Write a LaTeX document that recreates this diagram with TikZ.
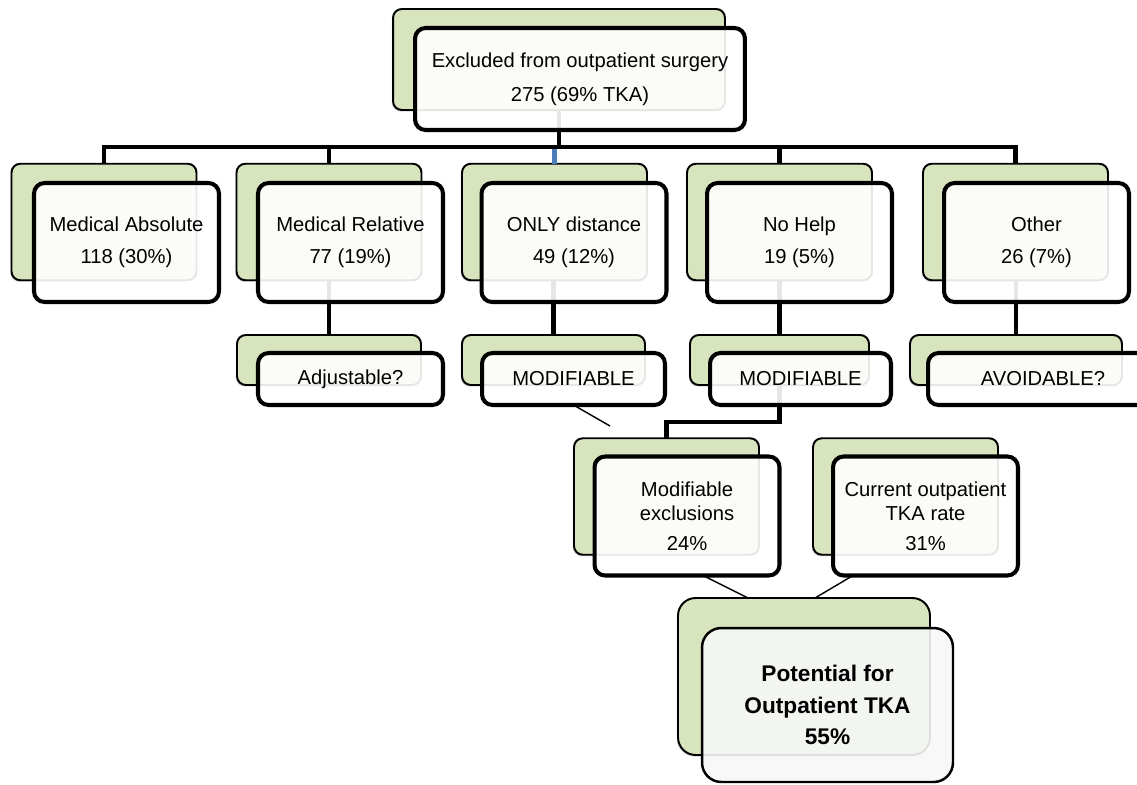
\documentclass[tikz,border=0pt]{standalone}
\usepackage{fontspec}
\setmainfont{Liberation Sans}
\usetikzlibrary{shadows}
\definecolor{boxgreen}{HTML}{D7E4BD}
\definecolor{stemblue}{HTML}{4A7EBB}
\tikzset{
  backbox/.style={draw=black, line width=1.1pt, fill=boxgreen, rounded corners=5pt,
    inner sep=0pt, outer sep=0pt,
    drop shadow={shadow xshift=-0.7pt, shadow yshift=-0.9pt, opacity=0.3}},
  frontbox/.style={draw=black, line width=2.3pt, fill=white, fill opacity=0.9, text opacity=1,
    rounded corners=6pt, inner sep=0pt, outer sep=0pt, align=center,
    font=\fontsize{11.5}{18}\selectfont},
  bigback/.style={backbox, minimum width=3.7cm, minimum height=2.33cm},
  bigfront/.style={frontbox, minimum width=3.7cm, minimum height=2.38cm},
  smallback/.style={backbox, minimum height=1.0cm},
  smallfront/.style={frontbox, minimum height=1.04cm},
  potback/.style={backbox, rounded corners=10pt, minimum width=5.04cm, minimum height=3.14cm},
  potfront/.style={frontbox, fill=black!3, line width=1.4pt, rounded corners=11pt,
    minimum width=5.02cm, minimum height=3.08cm,
    font=\fontsize{12.9}{18}\selectfont\bfseries},
  bus/.style={line width=2.8pt},
  thinline/.style={line width=0.8pt},
}
\begin{document}
\begin{tikzpicture}[x=0.02cm, y=-0.02cm]
  \useasboundingbox (0,0) rectangle (1137,785);

  % Green boxes behind
  \node[backbox, minimum width=6.64cm, minimum height=2.02cm] (topG) at (559,59.5) {};
  \node[bigback] (absG) at (104,222) {};
  \node[bigback] (relG) at (329,222) {};
  \node[bigback] (onlyG) at (554.5,222) {};
  \node[bigback] (helpG) at (779.5,222) {};
  \node[bigback] (otherG) at (1015.5,222) {};
  \node[smallback, minimum width=3.68cm] (adjG) at (329,360) {};
  \node[smallback, minimum width=3.66cm] (modaG) at (553.5,360) {};
  \node[smallback, minimum width=3.58cm] (modbG) at (779.5,360) {};
  \node[smallback, minimum width=4.24cm] (avoidG) at (1016,360) {};
  \node[bigback] (modexG) at (666.5,496.5) {};
  \node[bigback] (currG) at (905.5,496.5) {};
  \node[potback] (potG) at (804,676.5) {};

  % Bus from the top box to the five groups
  \coordinate (busJ) at (559,147);
  \draw[bus, draw=stemblue] (onlyG.north) -- (onlyG.north |- busJ);
  \draw[bus] (topG.south) -- (busJ);
  \draw[bus] (absG.north) |- (busJ) -| (otherG.north);
  \draw[bus] (relG.north) -- (relG.north |- busJ);
  \draw[bus] (helpG.north) -- (helpG.north |- busJ);

  % Stems down to the second level
  \draw[bus] (relG.south) -- (adjG.north);
  \draw[bus] (modaG.north |- onlyG.south) -- (modaG.north);
  \draw[bus] (modbG.north |- helpG.south) -- (modbG.north);
  \draw[bus] (avoidG.north |- otherG.south) -- (avoidG.north);
  \draw[bus] (modbG.south) -- ++(0,37) -| (modexG.north);

  % White boxes in front
  \node[frontbox, minimum width=6.6cm, minimum height=2.04cm, font=\fontsize{11.5}{19.3}\selectfont] (top) at (580,79)
    {Excluded from outpatient surgery\\275 (69\% TKA)};
  \node[bigfront] (abs) at (126.5,242.5) {Medical Absolute\\118 (30\%)};
  \node[bigfront] (rel) at (350.5,242.5) {Medical Relative\\77 (19\%)};
  \node[bigfront] (only) at (574,242.5) {ONLY distance\\49 (12\%)};
  \node[bigfront] (help) at (799.5,242.5) {No Help\\19 (5\%)};
  \node[bigfront] (other) at (1036.5,242.5) {Other\\26 (7\%)};
  \node[smallfront, minimum width=3.7cm] (adj) at (350.5,379) {Adjustable?};
  \node[smallfront, minimum width=3.66cm] (moda) at (573.5,379) {MODIFIABLE};
  \node[smallfront, minimum width=3.62cm] (modb) at (800.5,379) {MODIFIABLE};
  \node[smallfront, minimum width=4.6cm] (avoid) at (1043,379) {AVOIDABLE?};
  \node[bigfront, font=\fontsize{11.5}{13.6}\selectfont] (modex) at (687,516)
    {Modifiable\\exclusions\\[3.4pt]24\%};
  \node[bigfront, font=\fontsize{11.5}{13.6}\selectfont] (curr) at (925.5,516)
    {Current outpatient\\TKA rate\\[3.4pt]31\%};

  % Thin links
  \coordinate (modaEnd) at (610,426);
  \draw[thinline] (moda.south) -- (modaEnd);
  \draw[thinline] ([xshift=0.32cm]modex.south) -- ([xshift=-1.12cm]potG.north);
  \draw[thinline] ([xshift=-1.45cm]curr.south) -- ([xshift=0.22cm]potG.north);

  \node[potfront] (pot) at (827.5,705) {Potential for\\Outpatient TKA\\55\%};
\end{tikzpicture}
\end{document}
